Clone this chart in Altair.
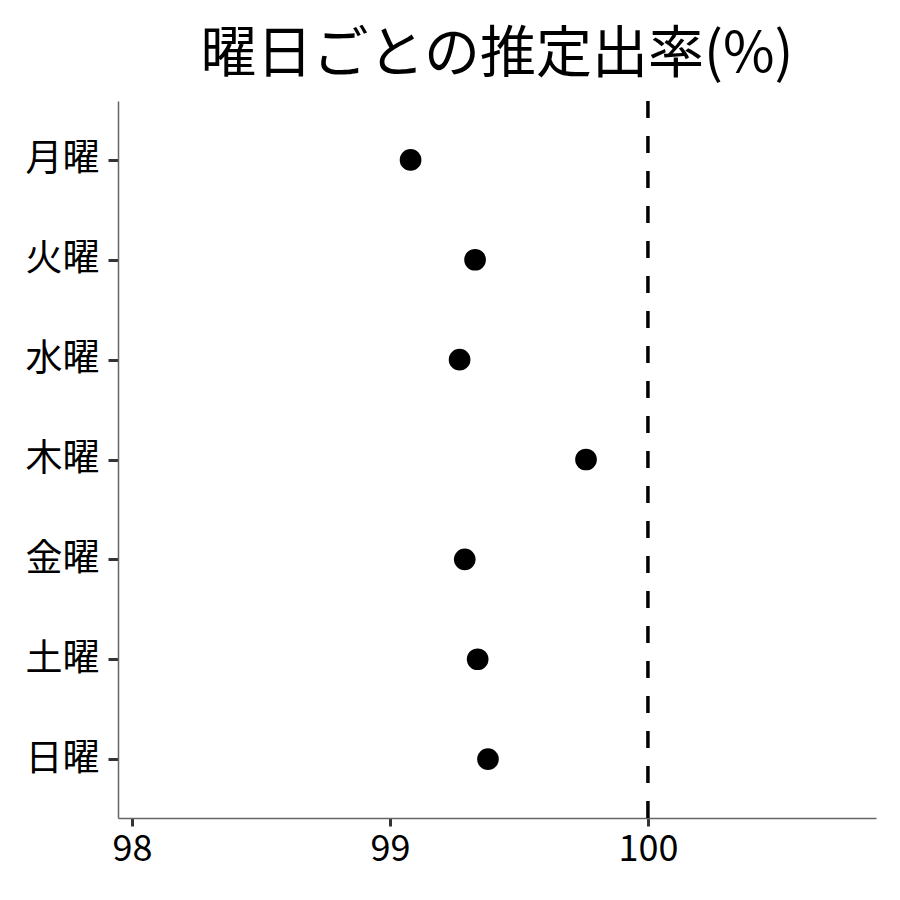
import altair as alt
import pandas as pd

days = ["月曜", "火曜", "水曜", "木曜", "金曜", "土曜", "日曜"]
rates = [99.08, 99.33, 99.27, 99.76, 99.29, 99.34, 99.38]
ref_value = [100]
x_ticks = [98, 99, 100]

df = pd.DataFrame({"day": days, "rate": rates})
ref = pd.DataFrame({"x": ref_value})

FONT = "Noto Sans CJK JP"

xscale = alt.Scale(domain=[97.946, 100.884], nice=False, zero=False)

points = alt.Chart(df).mark_circle(size=470, color="black", opacity=1).encode(
    x=alt.X("rate:Q", scale=xscale,
            axis=alt.Axis(values=x_ticks, format="d", title=None, grid=False, labelFontSize=36,
                          labelFont=FONT, labelColor="black", domainColor="#666666",
                          tickColor="#333333", tickWidth=3, tickSize=8, labelPadding=6,
                          domainWidth=1.5)),
    y=alt.Y("day:N", sort=days, scale=alt.Scale(type="point", padding=0.59),
            axis=alt.Axis(title=None, grid=False, labelFontSize=37, labelFont=FONT,
                          labelColor="black", domainColor="#666666", tickColor="#333333",
                          tickWidth=3, tickSize=10, labelPadding=9, domainWidth=1.5)),
)

rule = alt.Chart(ref).mark_rule(color="black", strokeWidth=3.5, strokeDash=[17, 18]).encode(
    x=alt.X("x:Q", scale=xscale)
)

chart = (points + rule).properties(
    width=758,
    height=717,
    title=alt.TitleParams("曜日ごとの推定出率(%)", font=FONT, fontSize=56,
                          fontWeight="normal", color="black", anchor="middle", offset=15),
    autosize=alt.AutoSizeParams(type="none"),
    padding={"left": 110, "top": 93, "right": 16, "bottom": 74},
).configure(background="white").configure_view(strokeWidth=0, stroke=None)

chart.save("out.html", embed_options={"renderer": "svg", "actions": False})
